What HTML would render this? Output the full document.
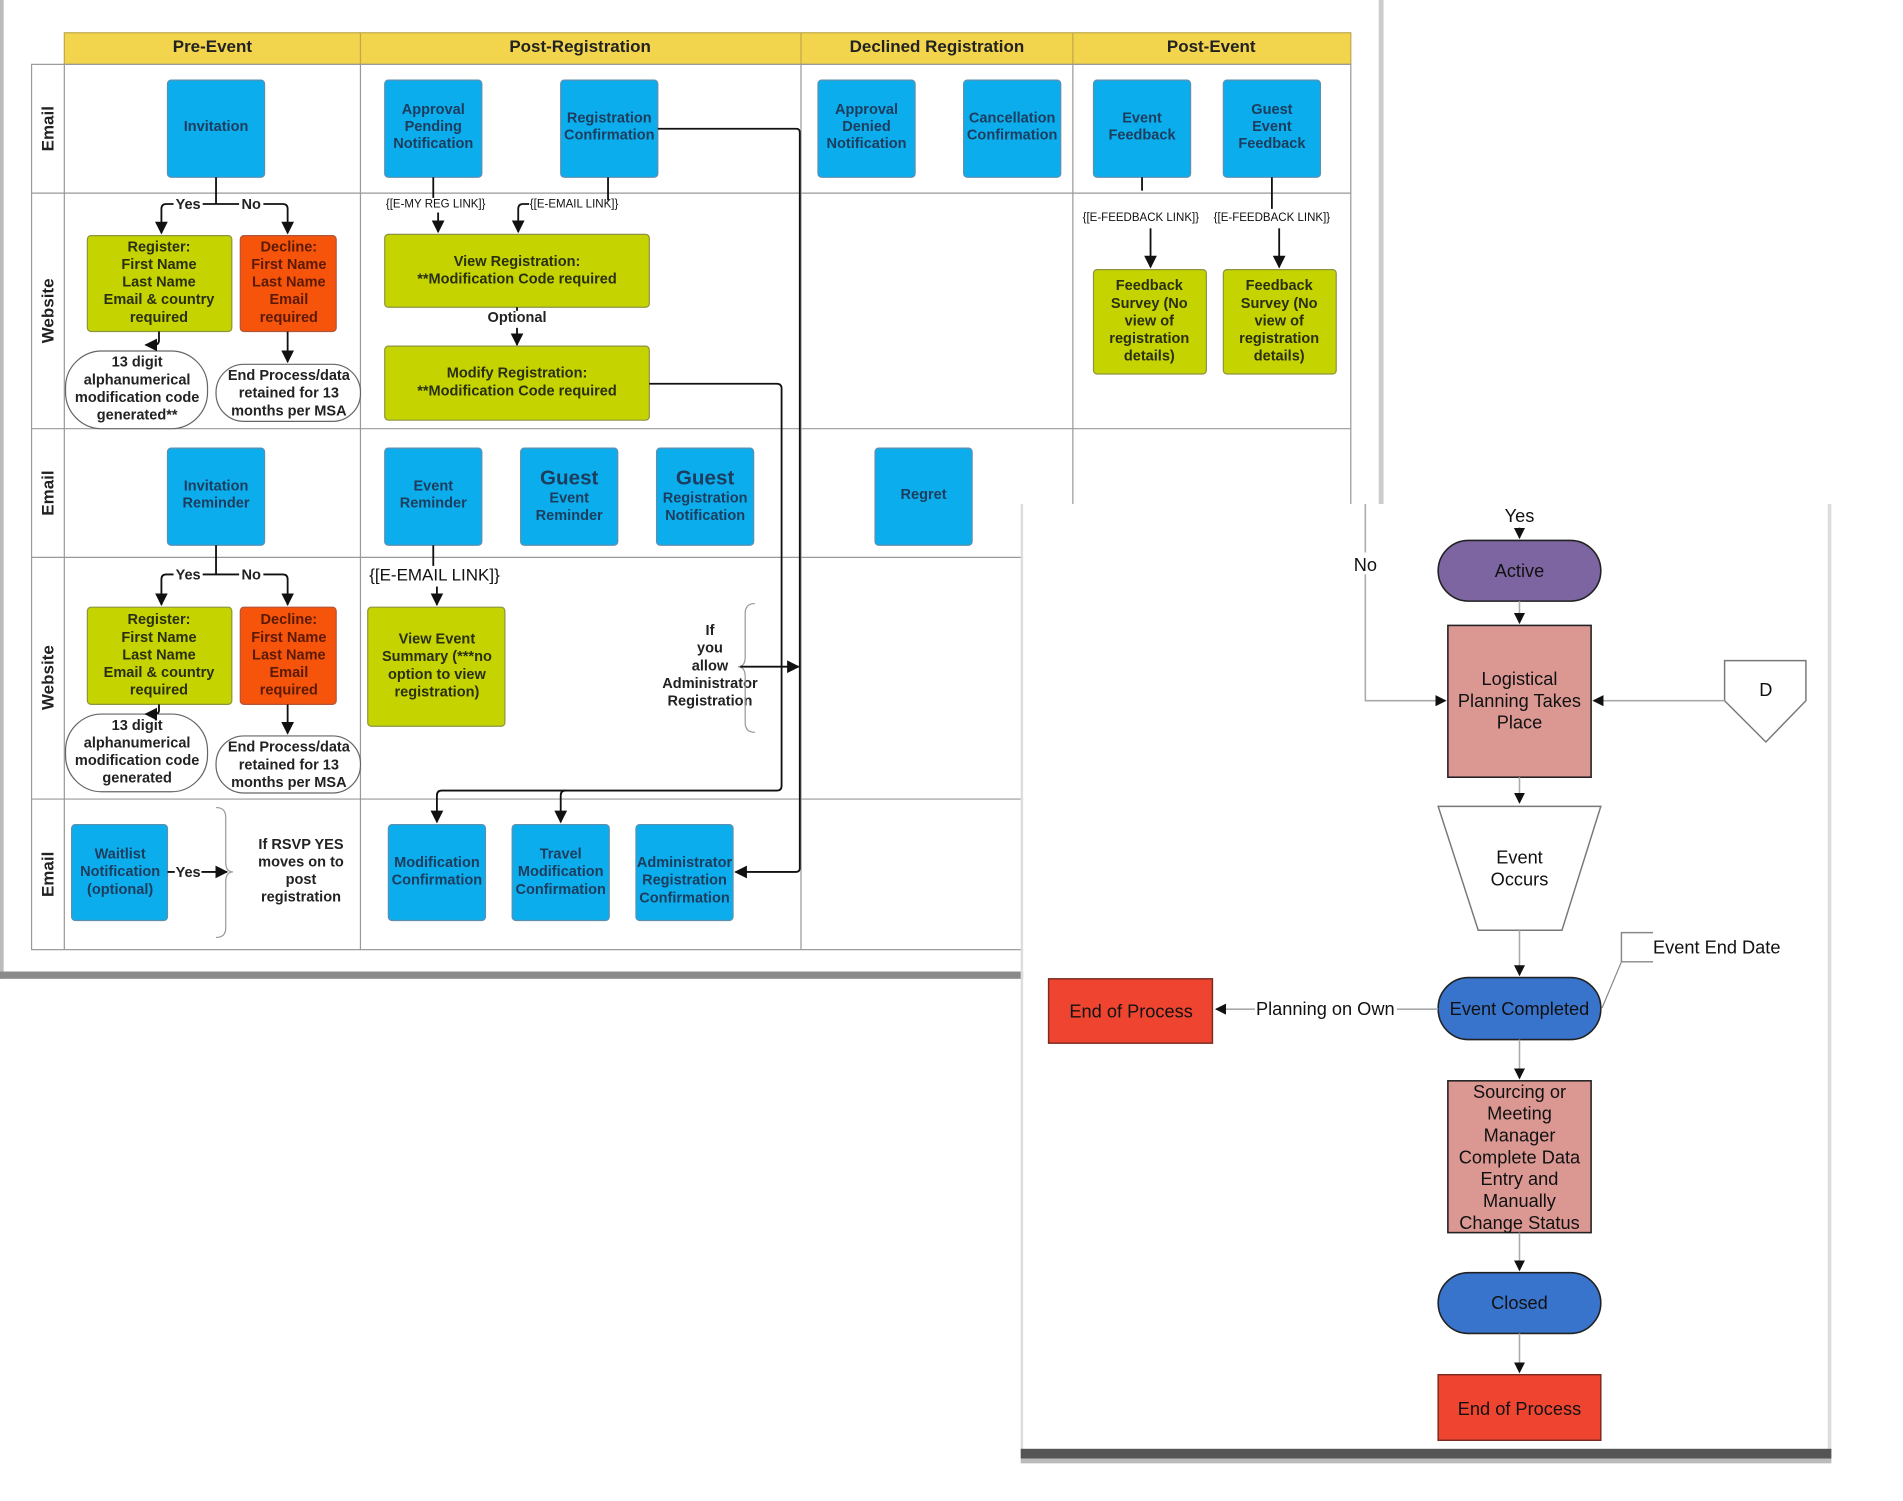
<!DOCTYPE html>
<html><head><meta charset="utf-8"><style>
html,body{margin:0;padding:0;background:#fff;width:1903px;height:1501px;overflow:hidden}
svg{display:block}
text{font-family:"Liberation Sans",Arial,sans-serif}
.bt{font-size:12px;font-weight:bold;fill:#1d3d5e;text-anchor:middle}
.gt{font-size:12px;font-weight:bold;fill:#2a2f12;text-anchor:middle}
.ot{font-size:12px;font-weight:bold;fill:#5a1a05;text-anchor:middle}
.kt{font-size:12px;font-weight:bold;fill:#222;text-anchor:middle}
.st{font-size:9.5px;fill:#111;text-anchor:middle}
.hd{font-size:14px;font-weight:bold;fill:#222;text-anchor:middle}
.rt{font-size:15px;fill:#111;text-anchor:middle}
.blue{fill:#0badec;stroke:#5e8fae;stroke-width:1}
.green{fill:#c5d400;stroke:#8c9440;stroke-width:1}
.orange{fill:#f7540b;stroke:#b0563a;stroke-width:1}
.ell{fill:#fff;stroke:#666;stroke-width:1}
.ln{fill:none;stroke:#111;stroke-width:1.5}
.gl{fill:none;stroke:#999;stroke-width:1}
.rl{fill:none;stroke:#aaa;stroke-width:1.3}
</style></head><body>
<svg width="1903" height="1501" viewBox="0 0 1568 1236" preserveAspectRatio="none" xmlns="http://www.w3.org/2000/svg">
<defs>
<marker id="a" viewBox="0 0 10 10" refX="9" refY="5" markerWidth="7" markerHeight="7" orient="auto"><path d="M0,0L10,5L0,10z" fill="#111"/></marker>
</defs>
<rect x="0" y="0" width="1140" height="806" fill="#fff"/>
<rect x="0" y="0" width="3" height="806" fill="#bbb"/>
<rect x="1136" y="0" width="4" height="806" fill="#ccc"/>
<rect x="0" y="800" width="1140" height="6" fill="#8a8a8a"/>
<rect x="53" y="27" width="1060" height="26" fill="#f2d54c" stroke="#bfa94a"/>
<line x1="297" y1="27" x2="297" y2="53" stroke="#bfa94a"/>
<line x1="660" y1="27" x2="660" y2="53" stroke="#bfa94a"/>
<line x1="884" y1="27" x2="884" y2="53" stroke="#bfa94a"/>
<text class="hd" x="175" y="43">Pre-Event</text>
<text class="hd" x="478" y="43">Post-Registration</text>
<text class="hd" x="772" y="43">Declined Registration</text>
<text class="hd" x="998" y="43">Post-Event</text>
<rect x="26" y="53" width="1087" height="729" fill="none" stroke="#999"/>
<line x1="53" y1="53" x2="53" y2="782" stroke="#999"/>
<line x1="297" y1="53" x2="297" y2="782" stroke="#999"/>
<line x1="660" y1="53" x2="660" y2="782" stroke="#999"/>
<line x1="884" y1="53" x2="884" y2="460" stroke="#999"/>
<line x1="26" y1="159" x2="1113" y2="159" stroke="#999"/>
<line x1="26" y1="353" x2="1113" y2="353" stroke="#999"/>
<line x1="26" y1="459" x2="1113" y2="459" stroke="#999"/>
<line x1="26" y1="658" x2="1113" y2="658" stroke="#999"/>
<g font-size="14" font-weight="bold" fill="#222" font-family="Liberation Sans">
<text transform="translate(44,106) rotate(-90)" text-anchor="middle">Email</text>
<text transform="translate(44,256) rotate(-90)" text-anchor="middle">Website</text>
<text transform="translate(44,406) rotate(-90)" text-anchor="middle">Email</text>
<text transform="translate(44,558) rotate(-90)" text-anchor="middle">Website</text>
<text transform="translate(44,720) rotate(-90)" text-anchor="middle">Email</text>
</g>
<rect class="blue" x="138" y="66" width="80" height="80" rx="3"/><text class="bt" x="178" y="108">Invitation</text>
<rect class="blue" x="317" y="66" width="80" height="80" rx="3"/><text class="bt" x="357" y="94">Approval<tspan x="357" dy="14">Pending</tspan><tspan x="357" dy="14">Notification</tspan></text>
<rect class="blue" x="462" y="66" width="80" height="80" rx="3"/><text class="bt" x="502" y="101">Registration<tspan x="502" dy="14">Confirmation</tspan></text>
<rect class="blue" x="674" y="66" width="80" height="80" rx="3"/><text class="bt" x="714" y="94">Approval<tspan x="714" dy="14">Denied</tspan><tspan x="714" dy="14">Notification</tspan></text>
<rect class="blue" x="794" y="66" width="80" height="80" rx="3"/><text class="bt" x="834" y="101">Cancellation<tspan x="834" dy="14">Confirmation</tspan></text>
<rect class="blue" x="901" y="66" width="80" height="80" rx="3"/><text class="bt" x="941" y="101">Event<tspan x="941" dy="14">Feedback</tspan></text>
<rect class="blue" x="1008" y="66" width="80" height="80" rx="3"/><text class="bt" x="1048" y="94">Guest<tspan x="1048" dy="14">Event</tspan><tspan x="1048" dy="14">Feedback</tspan></text>
<rect class="green" x="72" y="194" width="119" height="79" rx="3"/><text class="gt" x="131" y="207">Register:<tspan x="131" dy="14.5">First Name</tspan><tspan x="131" dy="14.5">Last Name</tspan><tspan x="131" dy="14.5">Email &amp; country</tspan><tspan x="131" dy="14.5">required</tspan></text>
<rect class="orange" x="198" y="194" width="79" height="79" rx="3"/><text class="ot" x="238" y="207">Decline:<tspan x="238" dy="14.5">First Name</tspan><tspan x="238" dy="14.5">Last Name</tspan><tspan x="238" dy="14.5">Email</tspan><tspan x="238" dy="14.5">required</tspan></text>
<rect class="ell" x="54" y="289" width="117" height="64" rx="30"/><text class="kt" x="113" y="302">13 digit<tspan x="113" dy="14.5">alphanumerical</tspan><tspan x="113" dy="14.5">modification code</tspan><tspan x="113" dy="14.5">generated**</tspan></text>
<rect class="ell" x="178" y="300" width="119" height="47" rx="23"/><text class="kt" x="238" y="313">End Process/data<tspan x="238" dy="14.5">retained for 13</tspan><tspan x="238" dy="14.5">months per MSA</tspan></text>
<rect class="green" x="317" y="193" width="218" height="60" rx="3"/><text class="gt" x="426" y="219">View Registration:<tspan x="426" dy="14.5">**Modification Code required</tspan></text>
<text class="kt" x="426" y="265">Optional</text>
<rect class="green" x="317" y="285" width="218" height="61" rx="3"/><text class="gt" x="426" y="311">Modify Registration:<tspan x="426" dy="14.5">**Modification Code required</tspan></text>
<rect class="green" x="901" y="222" width="93" height="86" rx="3"/><text class="gt" x="947" y="239">Feedback<tspan x="947" dy="14.5">Survey (No</tspan><tspan x="947" dy="14.5">view of</tspan><tspan x="947" dy="14.5">registration</tspan><tspan x="947" dy="14.5">details)</tspan></text>
<rect class="green" x="1008" y="222" width="93" height="86" rx="3"/><text class="gt" x="1054" y="239">Feedback<tspan x="1054" dy="14.5">Survey (No</tspan><tspan x="1054" dy="14.5">view of</tspan><tspan x="1054" dy="14.5">registration</tspan><tspan x="1054" dy="14.5">details)</tspan></text>
<rect class="blue" x="138" y="369" width="80" height="80" rx="3"/><text class="bt" x="178" y="404">Invitation<tspan x="178" dy="14">Reminder</tspan></text>
<rect class="blue" x="317" y="369" width="80" height="80" rx="3"/><text class="bt" x="357" y="404">Event<tspan x="357" dy="14">Reminder</tspan></text>
<rect class="blue" x="429" y="369" width="80" height="80" rx="3"/><text class="bt" x="469" y="399" style="font-size:17px">Guest</text><text class="bt" x="469" y="414">Event<tspan x="469" dy="14">Reminder</tspan></text>
<rect class="blue" x="541" y="369" width="80" height="80" rx="3"/><text class="bt" x="581" y="399" style="font-size:17px">Guest</text><text class="bt" x="581" y="414">Registration<tspan x="581" dy="14">Notification</tspan></text>
<rect class="blue" x="721" y="369" width="80" height="80" rx="3"/><text class="bt" x="761" y="411">Regret</text>
<rect class="green" x="72" y="500" width="119" height="80" rx="3"/><text class="gt" x="131" y="514">Register:<tspan x="131" dy="14.5">First Name</tspan><tspan x="131" dy="14.5">Last Name</tspan><tspan x="131" dy="14.5">Email &amp; country</tspan><tspan x="131" dy="14.5">required</tspan></text>
<rect class="orange" x="198" y="500" width="79" height="80" rx="3"/><text class="ot" x="238" y="514">Decline:<tspan x="238" dy="14.5">First Name</tspan><tspan x="238" dy="14.5">Last Name</tspan><tspan x="238" dy="14.5">Email</tspan><tspan x="238" dy="14.5">required</tspan></text>
<rect class="ell" x="54" y="588" width="117" height="64" rx="30"/><text class="kt" x="113" y="601">13 digit<tspan x="113" dy="14.5">alphanumerical</tspan><tspan x="113" dy="14.5">modification code</tspan><tspan x="113" dy="14.5">generated</tspan></text>
<rect class="ell" x="178" y="606" width="119" height="47" rx="23"/><text class="kt" x="238" y="619">End Process/data<tspan x="238" dy="14.5">retained for 13</tspan><tspan x="238" dy="14.5">months per MSA</tspan></text>
<rect class="green" x="303" y="500" width="113" height="98" rx="3"/><text class="gt" x="360" y="530">View Event<tspan x="360" dy="14.5">Summary (***no</tspan><tspan x="360" dy="14.5">option to view</tspan><tspan x="360" dy="14.5">registration)</tspan></text>
<text class="kt" x="585" y="523">If<tspan x="585" dy="14.5">you</tspan><tspan x="585" dy="14.5">allow</tspan><tspan x="585" dy="14.5">Administrator</tspan><tspan x="585" dy="14.5">Registration</tspan></text>
<path class="gl" d="M622,497 q-8,0 -8,8 v36 q0,8 -6,8 q6,0 6,8 v38 q0,8 8,8"/>
<rect class="blue" x="59" y="679" width="79" height="79" rx="3"/><text class="bt" x="99" y="707">Waitlist<tspan x="99" dy="14.5">Notification</tspan><tspan x="99" dy="14.5">(optional)</tspan></text>
<path class="gl" d="M178,665 q8,0 8,8 v37 q0,8 6,8 q-6,0 -6,8 v38 q0,8 -8,8"/>
<text class="kt" x="248" y="699">If RSVP YES<tspan x="248" dy="14.5">moves on to</tspan><tspan x="248" dy="14.5">post</tspan><tspan x="248" dy="14.5">registration</tspan></text>
<rect class="blue" x="320" y="679" width="80" height="79" rx="3"/><text class="bt" x="360" y="714">Modification<tspan x="360" dy="14.5">Confirmation</tspan></text>
<rect class="blue" x="422" y="679" width="80" height="79" rx="3"/><text class="bt" x="462" y="707">Travel<tspan x="462" dy="14.5">Modification</tspan><tspan x="462" dy="14.5">Confirmation</tspan></text>
<rect class="blue" x="524" y="679" width="80" height="79" rx="3"/><text class="bt" x="564" y="714">Administrator<tspan x="564" dy="14.5">Registration</tspan><tspan x="564" dy="14.5">Confirmation</tspan></text>
<path class="ln" d="M178,146 V168 M178,168 H137 q-4,0 -4,4 V192" marker-end="url(#a)"/>
<path class="ln" d="M178,168 H233 q4,0 4,4 V192" marker-end="url(#a)"/>
<rect x="143" y="162" width="24" height="12" fill="#fff"/><text class="kt" x="155" y="172" font-weight="normal">Yes</text>
<rect x="197" y="162" width="20" height="12" fill="#fff"/><text class="kt" x="207" y="172" font-weight="normal">No</text>
<path class="ln" d="M131,273 V280 q0,4 -4,4 H120" marker-end="url(#a)"/>
<path class="ln" d="M237,273 V298" marker-end="url(#a)"/>
<path class="ln" d="M178,449 V473 M178,473 H137 q-4,0 -4,4 V498" marker-end="url(#a)"/>
<path class="ln" d="M178,473 H233 q4,0 4,4 V498" marker-end="url(#a)"/>
<rect x="143" y="467" width="24" height="12" fill="#fff"/><text class="kt" x="155" y="477" font-weight="normal">Yes</text>
<rect x="197" y="467" width="20" height="12" fill="#fff"/><text class="kt" x="207" y="477" font-weight="normal">No</text>
<path class="ln" d="M131,580 V585 q0,3 -4,3 H120" marker-end="url(#a)"/>
<path class="ln" d="M237,580 V604" marker-end="url(#a)"/>
<path class="ln" d="M357,146 V163"/>
<text class="st" x="359" y="171">{[E-MY REG LINK]}</text>
<path class="ln" d="M361,175 V191" marker-end="url(#a)"/>
<path class="ln" d="M501,146 V165"/>
<path class="ln" d="M436,168 H431 q-4,0 -4,4 V191" marker-end="url(#a)"/>
<text class="st" x="473" y="171">{[E-EMAIL LINK]}</text>
<path class="ln" d="M426,253 V256 M426,270 V284" marker-end="url(#a)"/>
<path class="ln" d="M542,106 H656 q3,0 3,3 V715 q0,3 -3,3 H606" marker-end="url(#a)"/>
<path class="ln" d="M535,316 H640 q4,0 4,4 V647 q0,4 -4,4 H364 q-4,0 -4,4 V677" marker-end="url(#a)"/>
<path class="ln" d="M466,651 q-4,0 -4,4 V677" marker-end="url(#a)"/>
<path class="ln" d="M610,549 H658" marker-end="url(#a)"/>
<path class="ln" d="M357,449 V466"/>
<text x="358" y="478" font-size="14" fill="#111" text-anchor="middle" font-family="Liberation Sans">{[E-EMAIL LINK]}</text>
<path class="ln" d="M360,483 V498" marker-end="url(#a)"/>
<path class="ln" d="M138,718 H144 M166,718 H187" marker-end="url(#a)"/>
<text class="kt" x="155" y="722" font-weight="normal">Yes</text>
<path class="ln" d="M941,146 V157"/>
<path class="ln" d="M1048,146 V172"/>
<text class="st" x="940" y="182">{[E-FEEDBACK LINK]}</text>
<text class="st" x="1048" y="182">{[E-FEEDBACK LINK]}</text>
<path class="ln" d="M948,188 V220" marker-end="url(#a)"/>
<path class="ln" d="M1054,188 V220" marker-end="url(#a)"/>

<rect x="843" y="415" width="665" height="780" fill="#fff"/>
<rect x="841" y="415" width="2" height="780" fill="#ddd"/>
<rect x="1506" y="415" width="3" height="780" fill="#ddd"/>
<rect x="841" y="1193" width="668" height="8" fill="#555"/>
<rect x="841" y="1201" width="668" height="4" fill="#bbb"/>
<text class="rt" x="1252" y="430">Yes</text>
<path class="rl" d="M1252,434 V443" marker-end="url(#a)"/>
<rect x="1185" y="445" width="134" height="50" rx="25" fill="#7c65a0" stroke="#222" stroke-width="1.3"/>
<text class="rt" x="1252" y="475">Active</text>
<path class="rl" d="M1252,495 V513" marker-end="url(#a)"/>
<rect x="1193" y="515" width="118" height="125" fill="#db9893" stroke="#222" stroke-width="1.3"/>
<text class="rt" x="1252" y="564">Logistical<tspan x="1252" dy="18">Planning Takes</tspan><tspan x="1252" dy="18">Place</tspan></text>
<path class="rl" d="M1125,415 V577 H1191" marker-end="url(#a)"/>
<rect x="1112" y="455" width="26" height="18" fill="#fff"/>
<text class="rt" x="1125" y="470">No</text>
<path d="M1421,544 H1488 V577 L1455,611 L1421,577 Z" fill="#fff" stroke="#777" stroke-width="1.2"/>
<text class="rt" x="1455" y="573">D</text>
<path class="rl" d="M1421,577 H1313" marker-end="url(#a)"/>
<path class="rl" d="M1252,640 V661" marker-end="url(#a)"/>
<path d="M1185,664 H1319 L1287,766 H1218 Z" fill="#fff" stroke="#777" stroke-width="1.2"/>
<text class="rt" x="1252" y="711">Event<tspan x="1252" dy="18">Occurs</tspan></text>
<path class="rl" d="M1252,766 V803" marker-end="url(#a)"/>
<rect x="1185" y="805" width="134" height="51" rx="25" fill="#3873cc" stroke="#222" stroke-width="1.3"/>
<text class="rt" x="1252" y="836">Event Completed</text>
<path d="M1362,768 H1336 V792 H1362" fill="none" stroke="#888" stroke-width="1.2"/>
<path d="M1336,792 L1320,830" stroke="#888" stroke-width="1" fill="none"/>
<text x="1362" y="785" font-size="15" fill="#111" font-family="Liberation Sans">Event End Date</text>
<path class="rl" d="M1185,831 H1151 M1034,831 H1002" marker-end="url(#a)"/>
<text class="rt" x="1092" y="836">Planning on Own</text>
<rect x="864" y="806" width="135" height="53" fill="#ef4530" stroke="#7a2a20" stroke-width="1.2"/>
<text class="rt" x="932" y="838">End of Process</text>
<path class="rl" d="M1252,856 V888" marker-end="url(#a)"/>
<rect x="1193" y="890" width="118" height="125" fill="#db9893" stroke="#222" stroke-width="1.3"/>
<text class="rt" x="1252" y="904">Sourcing or<tspan x="1252" dy="18">Meeting</tspan><tspan x="1252" dy="18">Manager</tspan><tspan x="1252" dy="18">Complete Data</tspan><tspan x="1252" dy="18">Entry and</tspan><tspan x="1252" dy="18">Manually</tspan><tspan x="1252" dy="18">Change Status</tspan></text>
<path class="rl" d="M1252,1015 V1046" marker-end="url(#a)"/>
<rect x="1185" y="1048" width="134" height="50" rx="25" fill="#3873cc" stroke="#222" stroke-width="1.3"/>
<text class="rt" x="1252" y="1078">Closed</text>
<path class="rl" d="M1252,1098 V1130" marker-end="url(#a)"/>
<rect x="1185" y="1132" width="134" height="54" fill="#ef4530" stroke="#7a2a20" stroke-width="1.2"/>
<text class="rt" x="1252" y="1165">End of Process</text>
</svg>
</body></html>
